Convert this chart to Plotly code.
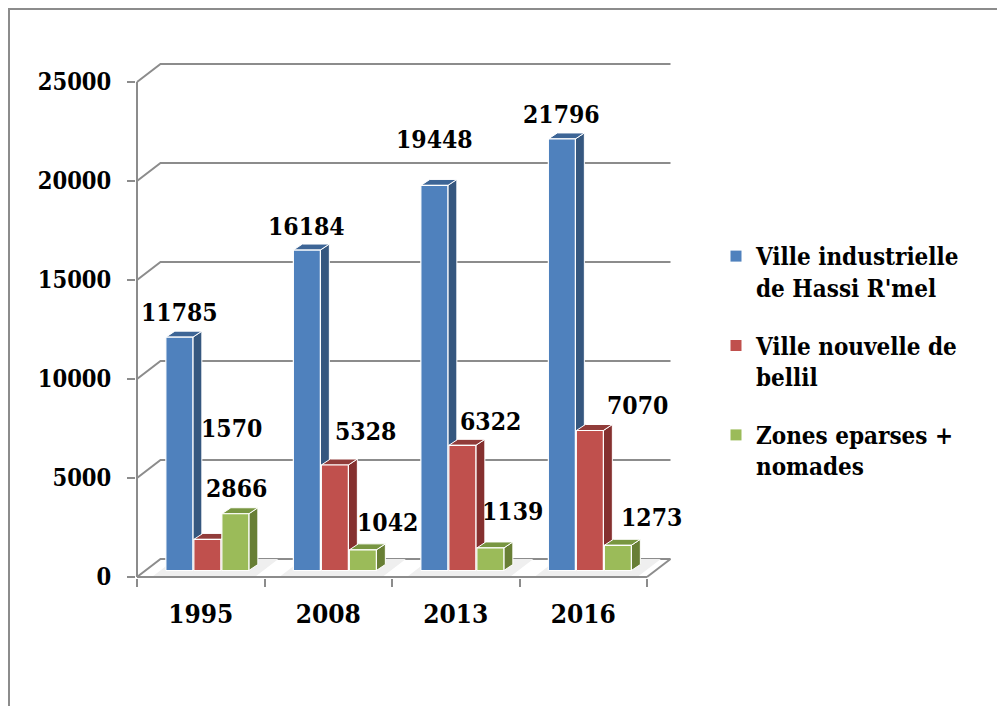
import plotly.graph_objects as go

# ---------------- data ----------------
years = ["1995", "2008", "2013", "2016"]
series_names = [
    "Ville industrielle<br>de Hassi R'mel",
    "Ville nouvelle de<br>bellil",
    "Zones eparses +<br>nomades",
]
ville_industrielle = [11785, 16184, 19448, 21796]
ville_nouvelle = [1570, 5328, 6322, 7070]
zones_eparses = [2866, 1042, 1139, 1273]
y_tick_values = [0, 5000, 10000, 15000, 20000, 25000]
y_tick_labels = ["0", "5000", "10000", "15000", "20000", "25000"]

series_values = [ville_industrielle, ville_nouvelle, zones_eparses]

# ---------------- styles ----------------
front_colors = ["#4F81BD", "#C0504D", "#9BBB59"]
top_colors = ["#3D6596", "#913C3A", "#789641"]
side_colors = ["#35577F", "#85302F", "#687F35"]
grid_color = "#8C8C8C"
FONT = "DejaVu Serif Condensed, DejaVu Serif"

# label offsets in pixels (xshift, yshift) per series / category
label_shifts = [
    [(0, 25), (0, 24), (0, 46), (0, 24)],
    [(24, 111), (31, 34), (28, 24), (48, 25)],
    [(1, 25), (25, 27), (22, 36), (34, 28)],
]

# ---------------- geometry (screen pixels -> data units) ----------------
OFF = 8                               # default page body margin
SW, SH = 1005, 706                    # window
W, H = SW - OFF, SH - OFF             # figure size
L, R, T, B = 136, 673, 58, 578        # plot box in screen pixels
FRONT_X0 = 137                        # pixel of category boundary -0.5
FRONT_Y0 = 577                        # pixel of value 0 on the front plane
CAT_PX = 127.5
KX = 1.0 / CAT_PX                     # x units per pixel
KY = 5000.0 / 99.0                    # value units per pixel

x_range = [-0.5 - (FRONT_X0 - L) * KX, -0.5 + (R - FRONT_X0) * KX]
y_range = [-(B - FRONT_Y0) * KY, (FRONT_Y0 - T) * KY]

WALL_DX, WALL_DY = 23.5 * KX, 18 * KY
BAR_DX, BAR_DY = 9 * KX, 6 * KY
BASE = 6.5 * KY
BAR_W = 27 * KX
SHIFT = 6.6 * KX
SPACING = 28 * KX

n_cat = len(years)
traces = []

# back wall grid lines (incl. floor back edge)
gx, gy = [], []
for v in y_tick_values:
    gx += [-0.5, -0.5 + WALL_DX, n_cat - 0.5 + WALL_DX, None]
    gy += [v, v + WALL_DY, v + WALL_DY, None]
traces.append(go.Scatter(x=gx, y=gy, mode="lines", line=dict(color=grid_color, width=2),
                         hoverinfo="skip", showlegend=False))

# floor shadows under each group
sx, sy = [], []
for i in range(n_cat):
    xa = i + SHIFT - SPACING - BAR_W / 2 - 14 * KX
    xb = i + SHIFT + SPACING + BAR_W / 2 + 6 * KX
    sx += [xa, xb, xb + WALL_DX, xa + WALL_DX, xa, None]
    sy += [0, 0, WALL_DY, WALL_DY, 0, None]
traces.append(go.Scatter(x=sx, y=sy, mode="lines", fill="toself", fillcolor="#EFEFEF",
                         line=dict(width=0), hoverinfo="skip", showlegend=False))

# floor right edge + front axes
traces.append(go.Scatter(
    x=[n_cat - 0.5, n_cat - 0.5 + WALL_DX, None, -0.5, n_cat - 0.5, None, -0.5, -0.5],
    y=[0, WALL_DY, None, 0, 0, None, 0, y_tick_values[-1]],
    mode="lines", line=dict(color=grid_color, width=2), hoverinfo="skip", showlegend=False))

# bars (side, top, front per series)
for s, vals in enumerate(series_values):
    fx, fy, tx, ty, qx, qy = [], [], [], [], [], []
    for i, v in enumerate(vals):
        cx = i + SHIFT + (s - 1) * SPACING
        xl, xr = cx - BAR_W / 2, cx + BAR_W / 2
        yb, yt = BASE, BASE + v
        fx += [xl, xr, xr, xl, xl, None]
        fy += [yb, yb, yt, yt, yb, None]
        tx += [xl, xr, xr + BAR_DX, xl + BAR_DX, xl, None]
        ty += [yt, yt, yt + BAR_DY, yt + BAR_DY, yt, None]
        qx += [xr, xr + BAR_DX, xr + BAR_DX, xr, xr, None]
        qy += [yb, yb + BAR_DY, yt + BAR_DY, yt, yb, None]
    traces.append(go.Scatter(x=qx, y=qy, mode="lines", fill="toself", fillcolor=side_colors[s],
                             line=dict(color="white", width=1), hoverinfo="skip", showlegend=False))
    traces.append(go.Scatter(x=tx, y=ty, mode="lines", fill="toself", fillcolor=top_colors[s],
                             line=dict(color="white", width=1), hoverinfo="skip", showlegend=False))
    traces.append(go.Scatter(x=fx, y=fy, mode="lines", fill="toself", fillcolor=front_colors[s],
                             line=dict(color="white", width=1.2), hoverinfo="skip", showlegend=False))

# legend entries
for s, name in enumerate(series_names):
    traces.append(go.Scatter(x=[None], y=[None], mode="markers", name=name, legendgroup=str(s),
                             marker=dict(symbol="square", size=11, color=front_colors[s])))

fig = go.Figure(traces)

# data labels
annotations = []
for s, vals in enumerate(series_values):
    for i, v in enumerate(vals):
        cx = i + SHIFT + (s - 1) * SPACING
        dx, dy = label_shifts[s][i]
        annotations.append(dict(x=cx, y=BASE + v, text=str(v), showarrow=False,
                                xshift=dx, yshift=dy, xanchor="center", yanchor="middle",
                                font=dict(family=FONT, size=24.5, color="black", weight="bold")))

def px_to_paper_x(px):
    return (px - L) / (R - L)

def px_to_paper_y(py):
    return (B - py) / (B - T)

fig.update_layout(
    width=W, height=H,
    margin=dict(l=L - OFF, r=SW - R, t=T - OFF, b=SH - B, pad=0),
    paper_bgcolor="white", plot_bgcolor="rgba(0,0,0,0)",
    font=dict(family=FONT, size=24.5, color="black", weight="bold"),
    showlegend=True,
    legend=dict(x=px_to_paper_x(716), y=px_to_paper_y(234), xanchor="left", yanchor="top",
                font=dict(family=FONT, size=24, color="black", weight="bold"),
                tracegroupgap=24, valign="top", bgcolor="rgba(0,0,0,0)"),
    annotations=annotations,
    shapes=[dict(type="rect", xref="paper", yref="paper",
                 x0=px_to_paper_x(9), x1=px_to_paper_x(1030),
                 y0=px_to_paper_y(730), y1=px_to_paper_y(9),
                 line=dict(color="#8C8C8C", width=2), fillcolor="rgba(0,0,0,0)", layer="below")],
    xaxis=dict(range=x_range, tickmode="array", tickvals=list(range(n_cat)), ticktext=years,
               ticks="", showgrid=False, zeroline=False, showline=False,
               ticklabelstandoff=18,
               minor=dict(tickmode="array", tickvals=[k - 0.5 for k in range(n_cat + 1)],
                          ticks="outside", ticklen=8, tickwidth=2, tickcolor=grid_color),
               tickfont=dict(family=FONT, size=26, color="black", weight="bold"),
               fixedrange=True),
    yaxis=dict(range=y_range, tickmode="array", tickvals=y_tick_values, ticktext=y_tick_labels,
               ticks="outside", ticklen=8, tickwidth=2, tickcolor=grid_color,
               showgrid=False, zeroline=False, showline=False, ticklabelstandoff=11,
               tickfont=dict(family=FONT, size=23.5, color="black", weight="bold"),
               fixedrange=True),
)

fig.write_html("out.html")
